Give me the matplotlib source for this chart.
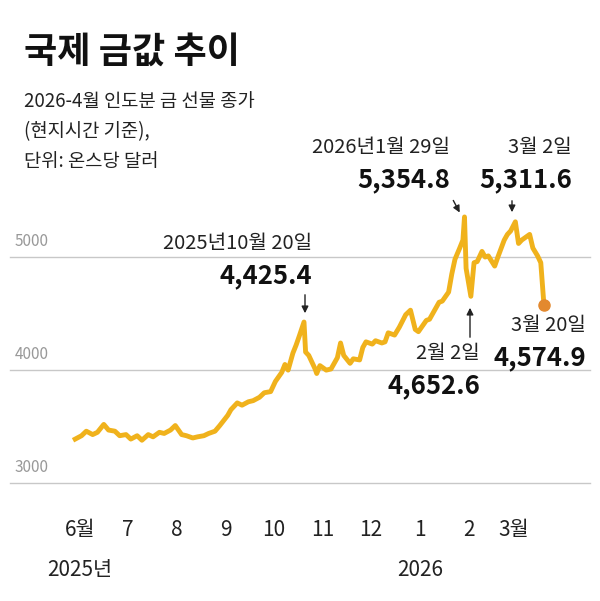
import matplotlib
matplotlib.use("Agg")
import matplotlib.pyplot as plt
import matplotlib.dates as mdates
import matplotlib.transforms as mtransforms
import datetime as dt

plt.rcParams['font.family'] = ['Noto Sans CJK KR', 'DejaVu Sans']

# gold futures, daily-ish closes
dates = ["2025-05-29", "2025-06-02", "2025-06-05", "2025-06-09", "2025-06-12", "2025-06-16",
         "2025-06-19", "2025-06-23", "2025-06-26", "2025-06-30", "2025-07-03", "2025-07-07",
         "2025-07-10", "2025-07-14", "2025-07-17", "2025-07-21", "2025-07-24", "2025-07-28",
         "2025-07-31", "2025-08-04", "2025-08-07", "2025-08-11", "2025-08-14", "2025-08-18",
         "2025-08-21", "2025-08-25", "2025-08-28", "2025-09-02", "2025-09-04", "2025-09-08",
         "2025-09-11", "2025-09-15", "2025-09-18", "2025-09-22", "2025-09-25", "2025-09-29",
         "2025-10-02", "2025-10-06", "2025-10-08", "2025-10-10", "2025-10-13", "2025-10-15",
         "2025-10-17", "2025-10-20", "2025-10-21", "2025-10-23", "2025-10-27", "2025-10-28",
         "2025-10-30", "2025-11-03", "2025-11-06", "2025-11-10", "2025-11-12", "2025-11-14",
         "2025-11-18", "2025-11-20", "2025-11-24", "2025-11-26", "2025-11-28", "2025-12-02",
         "2025-12-04", "2025-12-08", "2025-12-10", "2025-12-12", "2025-12-16", "2025-12-19",
         "2025-12-23", "2025-12-26", "2025-12-29", "2025-12-31", "2026-01-05", "2026-01-07",
         "2026-01-09", "2026-01-13", "2026-01-15", "2026-01-19", "2026-01-21", "2026-01-23",
         "2026-01-26", "2026-01-28", "2026-01-29", "2026-01-30", "2026-02-02", "2026-02-04",
         "2026-02-06", "2026-02-09", "2026-02-11", "2026-02-13", "2026-02-17", "2026-02-19",
         "2026-02-23", "2026-02-25", "2026-02-27", "2026-03-02", "2026-03-04", "2026-03-06",
         "2026-03-09", "2026-03-11", "2026-03-13", "2026-03-16", "2026-03-18", "2026-03-20"]
prices = [3390, 3420, 3460, 3430, 3450, 3520, 3470, 3460, 3420, 3430, 3390, 3420,
          3380, 3430, 3410, 3450, 3440, 3470, 3510, 3430, 3420, 3400, 3410, 3420,
          3440, 3460, 3510, 3600, 3650, 3710, 3690, 3720, 3730, 3760, 3800, 3810,
          3900, 3980, 4050, 4000, 4150, 4220, 4300, 4425.4, 4160, 4130, 4010, 3970,
          4040, 4000, 4010, 4110, 4240, 4130, 4060, 4100, 4090, 4200, 4250, 4230,
          4260, 4240, 4250, 4330, 4310, 4380, 4490, 4530, 4360, 4340, 4440, 4450,
          4500, 4600, 4610, 4690, 4850, 4980, 5080, 5150, 5354.8, 4900, 4652.6, 4950,
          4960, 5050, 5000, 5010, 4920, 5000, 5150, 5200, 5230, 5311.6, 5120, 5150,
          5180, 5200, 5080, 5010, 4950, 4574.9]
yticks = [3000, 4000, 5000]
month_ticks = ["2025-06-01", "2025-07-01", "2025-08-01", "2025-09-01", "2025-10-01",
               "2025-11-01", "2025-12-01", "2026-01-01", "2026-02-01", "2026-03-01"]
month_labels = ["6월", "7", "8", "9", "10", "11", "12", "1", "2", "3월"]

x = [dt.datetime.strptime(d, "%Y-%m-%d") for d in dates]
xm = [dt.datetime.strptime(d, "%Y-%m-%d") for d in month_ticks]

line_col = "#F0B21C"
dot_col = "#E3892F"
grey = "#999999"

fig = plt.figure(figsize=(6, 6.01), dpi=100)
ax = fig.add_axes([0.0167, 0.196, 0.9667, 0.4892])
ax.set_xlim(dt.datetime(2025, 4, 18), dt.datetime(2026, 4, 18))
ax.set_ylim(3000, 5600)
for s in ax.spines.values():
    s.set_visible(False)
ax.set_xticks([])
ax.set_yticks([])
for v in yticks:
    ax.axhline(v, color="#c8c8c8", lw=1, zorder=0, clip_on=False)
    ax.text(0.008, v + 60, str(v), transform=ax.get_yaxis_transform(),
            fontsize=11, color=grey, va="bottom", ha="left")

ax.plot(x, prices, color=line_col, lw=3.5, solid_joinstyle="round", zorder=3)
ax.plot(x[-1], prices[-1], "o", color=dot_col, ms=8, zorder=4)

# month labels under the axis
trans = mtransforms.blended_transform_factory(ax.transData, fig.transFigure)
for d, lab in zip(xm, month_labels):
    fig.text(mdates.date2num(d), 1 - 530 / 601, lab, transform=trans,
             fontsize=15, ha="center", va="center", color="#222222")
fig.text(mdates.date2num(xm[0]), 1 - 570 / 601, "2025년", transform=trans,
         fontsize=15, ha="center", va="center", color="#222222")
fig.text(mdates.date2num(xm[7]), 1 - 570 / 601, "2026", transform=trans,
         fontsize=15, ha="center", va="center", color="#222222")

# title
fig.text(0.04, 1 - 52 / 601, "국제 금값 추이", fontsize=26, fontweight="bold",
         ha="left", va="center", color="#111111")
fig.text(0.04, 1 - 102 / 601, "2026-4월 인도분 금 선물 종가", fontsize=13.5,
         ha="left", va="center", color="#222222")
fig.text(0.04, 1 - 132 / 601, "(현지시간 기준),", fontsize=13.5,
         ha="left", va="center", color="#222222")
fig.text(0.04, 1 - 162 / 601, "단위: 온스당 달러", fontsize=13.5,
         ha="left", va="center", color="#222222")

def note(label, value, tx, ty, arrow_from=None, arrow_to=None):
    fx = lambda px: px / 600
    fy = lambda py: 1 - py / 601
    fig.text(fx(tx), fy(ty), label, fontsize=14.5, ha="right", va="center", color="#222222")
    fig.text(fx(tx), fy(ty + 32), value, fontsize=18.5, fontweight="bold",
             ha="right", va="center", color="#111111")
    if arrow_from:
        ax.annotate("", xy=(fx(arrow_to[0]), fy(arrow_to[1])), xycoords="figure fraction",
                    xytext=(fx(arrow_from[0]), fy(arrow_from[1])), textcoords="figure fraction",
                    arrowprops=dict(arrowstyle="-|>", color="#222222", lw=1, mutation_scale=10))

note("2025년10월 20일", "4,425.4", 312, 244, (305, 292), (305, 316))
note("2026년1월 29일", "5,354.8", 450, 148, (452, 198), (461, 215))
note("3월 2일", "5,311.6", 572, 148, (512, 198), (512, 215))
note("2월 2일", "4,652.6", 480, 354, (470, 340), (470, 305))
note("3월 20일", "4,574.9", 586, 326)

fig.savefig("out.png", dpi=100)
